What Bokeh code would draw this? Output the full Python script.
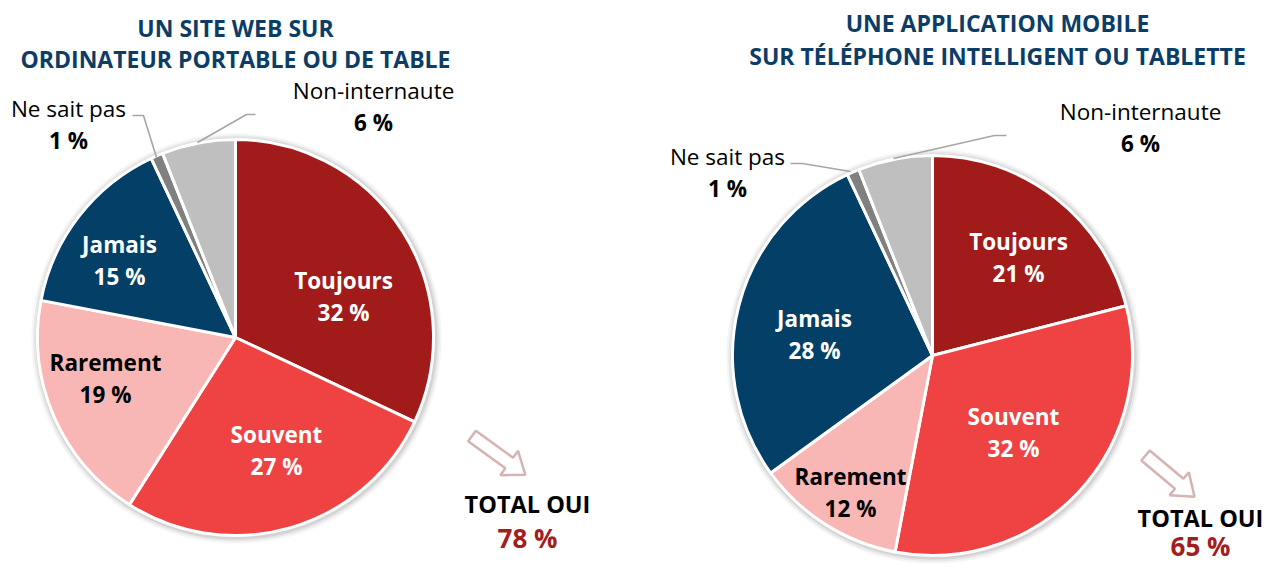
import math
from bokeh.plotting import figure
from bokeh.models import Range1d
from bokeh.embed import file_html
from bokeh.resources import INLINE
from bokeh.core.properties import value

# ---------------- data ----------------
categories = ["Toujours", "Souvent", "Rarement", "Jamais", "Ne sait pas", "Non-internaute"]
web_values = [32, 27, 19, 15, 1, 6]
mobile_values = [21, 32, 12, 28, 1, 6]
web_total = 78
mobile_total = 65
web_title = ["UN SITE WEB SUR", "ORDINATEUR PORTABLE OU DE TABLE"]
mobile_title = ["UNE APPLICATION MOBILE", "SUR TÉLÉPHONE INTELLIGENT OU TABLETTE"]
total_label = "TOTAL OUI"

# ---------------- styles ----------------
colors = ["#A11B1B", "#EF4343", "#F8B6B4", "#033F67", "#808080", "#BFBFBF"]
label_colors = ["white", "white", "black", "white", "black", "black"]
inside = [True, True, True, True, False, False]
TITLE_COLOR = "#0B3D66"
TOTAL_COLOR = "#A31D1D"
FONT = "Open Sans"

W, H = 1264, 568


def X(px):
    return px


def Y(py):
    return H - py


p = figure(width=W, height=H, output_backend="svg", toolbar_location=None,
           x_range=Range1d(0, W), y_range=Range1d(0, H), min_border=0)
p.axis.visible = False
p.grid.visible = False
p.outline_line_color = None
p.background_fill_color = "white"
p.border_fill_color = "white"

pies = [
    dict(values=web_values, cx=235, cy=337, r=198, title=web_title, title_x=235, title_y=(27, 58),
         total=web_total, total_pos=(527, 503, 537),
         labels=[(343, 296), (276, 450), (105, 378), (119, 260), (68, 124), (373, 106)],
         leaders=[None, None, None, None,
                  [(132, 115), (143, 115), (156, 157)],
                  [(255, 114), (246, 114), (197, 142)]],
         arrow=(471.5, 435.5, 36, 66)),
    dict(values=mobile_values, cx=932, cy=355, r=200, title=mobile_title, title_x=997, title_y=(22, 55),
         total=mobile_total, total_pos=(1200, 517, 545),
         labels=[(1018, 257), (1013, 432), (850, 492), (814, 334), (727, 172), (1140, 127)],
         leaders=[None, None, None, None,
                  [(790, 163), (802, 163), (850, 171)],
                  [(1006, 135), (994, 135), (893, 158)]],
         arrow=(1145, 455, 40, 64)),
]


def arrow_poly(tx, ty, ang, L, sw=6.5, hw=15, hl=20):
    a = math.radians(ang)
    ux, uy = math.cos(a), math.sin(a)
    nx, ny = -uy, ux
    pts = [
        (tx + nx * sw, ty + ny * sw),
        (tx + ux * (L - hl) + nx * sw, ty + uy * (L - hl) + ny * sw),
        (tx + ux * (L - hl) + nx * hw, ty + uy * (L - hl) + ny * hw),
        (tx + ux * L, ty + uy * L),
        (tx + ux * (L - hl) - nx * hw, ty + uy * (L - hl) - ny * hw),
        (tx + ux * (L - hl) - nx * sw, ty + uy * (L - hl) - ny * sw),
        (tx - nx * sw, ty - ny * sw),
    ]
    return [X(x) for x, _ in pts], [Y(y) for _, y in pts]


for pie in pies:
    vals = pie["values"]
    total = sum(vals)
    cx, cy, r = X(pie["cx"]), Y(pie["cy"]), pie["r"]

    # soft shadow
    for dr, a in [(7, 0.10), (5, 0.15), (3, 0.25)]:
        p.circle(x=[cx + 1], y=[cy - 1], radius=r + dr, fill_color="#9a9a9a",
                 fill_alpha=a, line_color=None)

    cum = 0
    starts, ends = [], []
    for v in vals:
        starts.append(math.pi / 2 - 2 * math.pi * cum / total)
        cum += v
        ends.append(math.pi / 2 - 2 * math.pi * cum / total)
    p.wedge(x=[cx] * len(vals), y=[cy] * len(vals), radius=r,
            start_angle=starts, end_angle=ends, direction="clock",
            fill_color=colors, line_color="white", line_width=3)

    # labels
    for i, (cat, v) in enumerate(zip(categories, vals)):
        lx, ly = pie["labels"][i]
        name_style = "bold" if inside[i] else "normal"
        p.text(x=[X(lx)], y=[Y(ly - 16)], text=[cat], text_align="center",
               text_baseline="middle", text_font=value(FONT), text_font_size="22.5px",
               text_font_style=name_style, text_color=label_colors[i])
        p.text(x=[X(lx)], y=[Y(ly + 16)], text=[f"{v} %"], text_align="center",
               text_baseline="middle", text_font=value(FONT), text_font_size="22.5px",
               text_font_style="bold", text_color=label_colors[i])
        ld = pie["leaders"][i]
        if ld:
            p.line(x=[X(a) for a, _ in ld], y=[Y(b) for _, b in ld],
                   line_color="#A6A6A6", line_width=1.6)

    # titles
    for t, ty in zip(pie["title"], pie["title_y"]):
        p.text(x=[X(pie["title_x"])], y=[Y(ty)], text=[t], text_align="center",
               text_baseline="middle", text_font=value(FONT), text_font_size="23px",
               text_font_style="bold", text_color=TITLE_COLOR)

    # arrow
    ax, ay = arrow_poly(*pie["arrow"])
    p.patch(x=ax, y=ay, fill_color="white", line_color="#D6B3B3", line_width=2.5)

    # totals
    tx, ty1, ty2 = pie["total_pos"]
    p.text(x=[X(tx)], y=[Y(ty1)], text=[total_label], text_align="center",
           text_baseline="middle", text_font=value(FONT), text_font_size="23.5px",
           text_font_style="bold", text_color="black")
    p.text(x=[X(tx)], y=[Y(ty2)], text=[f"{pie['total']} %"], text_align="center",
           text_baseline="middle", text_font=value(FONT), text_font_size="26px",
           text_font_style="bold", text_color=TOTAL_COLOR)

open("out.html", "w").write(file_html(p, INLINE))
